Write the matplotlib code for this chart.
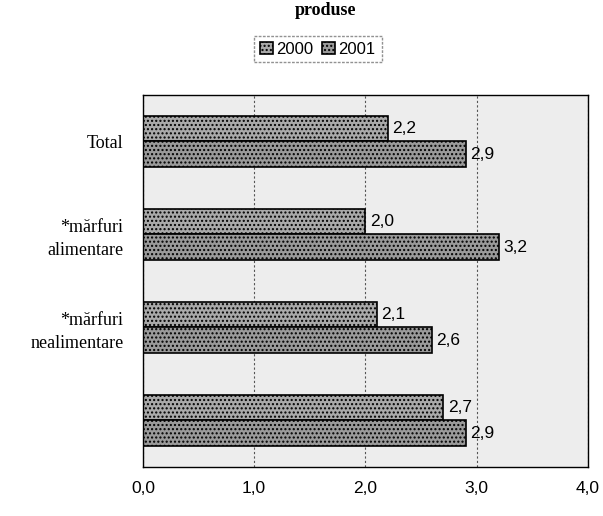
"""Horizontal bar chart: growth by product group, 2000 vs 2001."""
import matplotlib.pyplot as plt
import numpy as np

categories = ["Total", "*mărfuri\nalimentare", "*mărfuri\nnealimentare", ""]
years = ["2000", "2001"]
values_2000 = [2.2, 2.0, 2.1, 2.7]
values_2001 = [2.9, 3.2, 2.6, 2.9]
x_ticks = [0.0, 1.0, 2.0, 3.0, 4.0]

fig = plt.figure(figsize=(6.03, 5.16), dpi=100)
# plot frame roughly x 143..588, y 95..467 px
ax = fig.add_axes([0.237, 0.095, 0.738, 0.721])
ax.set_facecolor("#ededed")

y = np.arange(len(categories))
h = 0.27
bars_a = ax.barh(y - h / 2, values_2000, height=h, color="#a9a9a9",
                 edgecolor="black", linewidth=1.2, hatch="....", label=years[0])
bars_b = ax.barh(y + h / 2, values_2001, height=h, color="#9a9a9a",
                 edgecolor="black", linewidth=1.2, hatch="....", label=years[1])

for bars in (bars_a, bars_b):
    for b in bars:
        w = b.get_width()
        ax.text(w + 0.04, b.get_y() + b.get_height() / 2,
                f"{w:.1f}".replace(".", ","), va="center", ha="left",
                fontsize=12.5, family="Liberation Sans")

ax.set_xlim(0, 4.0)
ax.set_ylim(len(categories) - 0.5, -0.5)
ax.set_xticks(x_ticks)
ax.set_xticklabels([f"{t:.1f}".replace(".", ",") for t in x_ticks],
                   family="Liberation Sans", fontsize=12.5)
ax.set_yticks(y)
ax.set_yticklabels(categories, family="Liberation Serif", fontsize=13,
                   linespacing=1.4)
ax.tick_params(length=0)
ax.tick_params(axis="x", pad=10)
ax.tick_params(axis="y", pad=14)
ax.xaxis.grid(True, linestyle=(0, (2, 2)), color="#555555", linewidth=0.8)
ax.set_axisbelow(True)
for s in ax.spines.values():
    s.set_color("black")
    s.set_linewidth(1.0)

leg = fig.legend(loc="center", bbox_to_anchor=(0.527, 0.905), ncol=2,
                 frameon=True, fancybox=False, handlelength=0.8,
                 handletextpad=0.2, columnspacing=0.5, borderpad=0.35,
                 prop={"family": "Liberation Sans", "size": 12})
leg.get_frame().set_edgecolor("#777777")
leg.get_frame().set_linestyle((0, (2, 1)))

fig.text(0.54, 0.997, "produse", ha="center", va="top",
         family="Liberation Serif", fontweight="bold", fontsize=13)

fig.savefig("out.png", dpi=100)
